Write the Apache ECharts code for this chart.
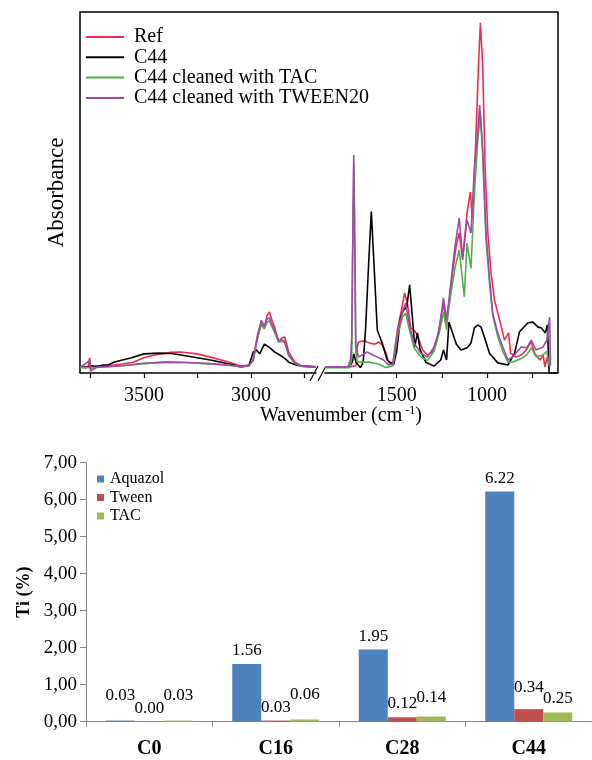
<!DOCTYPE html>
<html>
<head>
<meta charset="utf-8">
<script src="https://cdn.jsdelivr.net/npm/echarts@6/dist/echarts.min.js"></script>
<style>
  html, body { margin: 0; padding: 0; background: #fff; }
  #main { width: 592px; height: 760px; }
</style>
</head>
<body>
<div id="main"></div>
<script>
// FTIR spectra: [wavenumber (cm-1), absorbance a.u.]
var ref = [
  [3798,0.017],[3760,0.018],[3753,0.042],[3748,0.012],[3720,0.02],[3680,0.02],[3640,0.022],[3600,0.025],
  [3550,0.03],[3500,0.042],[3450,0.05],[3380,0.057],[3330,0.058],[3250,0.053],[3190,0.044],[3100,0.03],
  [3048,0.019],[3010,0.022],[2990,0.036],[2970,0.105],[2952,0.141],[2938,0.127],[2925,0.16],[2914,0.169],
  [2900,0.141],[2890,0.127],[2871,0.086],[2857,0.097],[2843,0.1],[2824,0.058],[2795,0.03],[2762,0.019],[2697,0.017],
  [1896,0.017],[1760,0.017],[1725,0.02],[1718,0.072],[1711,0.086],[1680,0.089],[1650,0.083],[1620,0.08],
  [1600,0.086],[1580,0.078],[1561,0.058],[1543,0.028],[1520,0.03],[1496,0.119],[1468,0.188],[1456,0.222],
  [1441,0.194],[1422,0.125],[1404,0.119],[1385,0.105],[1357,0.064],[1330,0.05],[1302,0.058],[1274,0.1],
  [1256,0.15],[1241,0.194],[1228,0.139],[1209,0.194],[1191,0.277],[1172,0.349],[1154,0.388],[1135,0.313],
  [1111,0.443],[1093,0.501],[1080,0.424],[1061,0.665],[1048,0.848],[1037,0.97],[1024,0.848],[1011,0.57],
  [996,0.388],[978,0.277],[959,0.202],[931,0.147],[904,0.091],[881,0.111],[870,0.055],[839,0.044],
  [811,0.05],[783,0.064],[756,0.086],[737,0.055],[709,0.036],[690,0.05],[681,0.017],[667,0.044],[657,0.012]
];
var c44 = [
  [3798,0.017],[3770,0.015],[3740,0.02],[3720,0.017],[3690,0.022],[3667,0.022],[3640,0.03],[3600,0.036],
  [3557,0.042],[3500,0.053],[3430,0.055],[3370,0.054],[3300,0.047],[3190,0.036],[3100,0.025],[3048,0.017],
  [3010,0.02],[2990,0.058],[2975,0.064],[2960,0.053],[2938,0.08],[2910,0.069],[2890,0.058],[2866,0.05],
  [2840,0.039],[2824,0.03],[2790,0.022],[2762,0.019],[2697,0.017],
  [1896,0.017],[1780,0.017],[1760,0.018],[1745,0.03],[1737,0.053],[1725,0.03],[1700,0.015],[1685,0.03],
  [1672,0.119],[1655,0.3],[1640,0.447],[1625,0.3],[1607,0.119],[1580,0.083],[1552,0.036],[1517,0.022],
  [1500,0.06],[1478,0.155],[1461,0.175],[1444,0.183],[1428,0.244],[1413,0.155],[1400,0.072],[1385,0.111],
  [1370,0.064],[1339,0.03],[1294,0.019],[1256,0.036],[1241,0.064],[1224,0.036],[1211,0.141],[1191,0.111],
  [1170,0.08],[1144,0.064],[1110,0.07],[1089,0.083],[1070,0.125],[1052,0.133],[1033,0.127],[1015,0.1],
  [987,0.055],[941,0.028],[885,0.022],[848,0.055],[821,0.114],[774,0.139],[746,0.141],[718,0.127],
  [700,0.125],[678,0.111],[667,0.133],[657,0.0],[608,0.0]
];
var tac = [
  [3798,0.015],[3700,0.016],[3600,0.02],[3500,0.026],[3400,0.03],[3300,0.029],[3200,0.026],[3100,0.021],
  [3048,0.017],[3010,0.02],[2990,0.034],[2970,0.095],[2952,0.135],[2938,0.122],[2925,0.14],[2914,0.145],
  [2900,0.125],[2890,0.112],[2871,0.085],[2857,0.088],[2843,0.084],[2824,0.048],[2795,0.026],[2762,0.018],[2697,0.016],
  [1896,0.015],[1760,0.015],[1748,0.04],[1744,0.29],[1737,0.58],[1730,0.29],[1726,0.06],[1718,0.03],
  [1700,0.03],[1650,0.03],[1600,0.025],[1560,0.015],[1520,0.02],[1496,0.1],[1468,0.155],[1450,0.166],
  [1432,0.125],[1404,0.07],[1367,0.045],[1330,0.035],[1293,0.06],[1265,0.11],[1241,0.169],[1224,0.12],
  [1209,0.19],[1178,0.29],[1154,0.34],[1126,0.211],[1111,0.36],[1089,0.29],[1070,0.5],[1052,0.64],
  [1037,0.72],[1024,0.6],[1006,0.37],[987,0.25],[969,0.16],[941,0.1],[913,0.06],[885,0.03],
  [860,0.03],[811,0.04],[780,0.05],[756,0.07],[730,0.045],[691,0.05],[670,0.06],[657,0.02]
];
var tween20 = [
  [3798,0.015],[3753,0.035],[3749,0.005],[3720,0.016],[3700,0.017],[3600,0.02],[3500,0.027],[3400,0.03],
  [3300,0.029],[3200,0.026],[3100,0.022],[3048,0.018],[3010,0.02],[2990,0.036],[2970,0.1],[2952,0.146],
  [2938,0.13],[2925,0.15],[2914,0.152],[2900,0.13],[2890,0.117],[2871,0.09],[2857,0.092],[2843,0.088],
  [2824,0.05],[2795,0.028],[2762,0.019],[2697,0.017],
  [1896,0.017],[1770,0.017],[1755,0.036],[1748,0.1],[1744,0.3],[1737,0.604],[1730,0.3],[1726,0.08],
  [1720,0.064],[1711,0.044],[1663,0.058],[1607,0.044],[1572,0.036],[1545,0.022],[1520,0.025],[1496,0.111],
  [1468,0.169],[1450,0.194],[1432,0.139],[1404,0.083],[1367,0.055],[1330,0.044],[1293,0.072],[1265,0.119],
  [1241,0.208],[1224,0.147],[1209,0.211],[1178,0.349],[1154,0.429],[1135,0.32],[1111,0.424],[1089,0.388],
  [1070,0.571],[1052,0.665],[1041,0.742],[1024,0.615],[1006,0.388],[987,0.266],[969,0.166],[941,0.111],
  [913,0.072],[885,0.036],[860,0.044],[811,0.072],[780,0.07],[756,0.091],[730,0.064],[691,0.072],
  [670,0.09],[654,0.155],[650,0.02]
];

var leftTicks = [3750, 3500, 3250, 3000, 2750];
var leftLabels = [3500, 3000];
var rightTicks = [1750, 1500, 1250, 1000, 750];
var rightLabels = [1500, 1000];

// Ti content bar chart
var samples = ['C0', 'C16', 'C28', 'C44'];
var aquazol = [0.03, 1.56, 1.95, 6.22];
var tween = [0.00, 0.03, 0.12, 0.34];
var tacTi = [0.03, 0.06, 0.14, 0.25];

var FONT = '"Liberation Serif", "Times New Roman", serif';
var chart = echarts.init(document.getElementById('main'));

var spectra = [
  { name: 'Ref', color: '#ee2c52', data: ref },
  { name: 'C44', color: '#000000', data: c44 },
  { name: 'C44 cleaned with TAC', color: '#4cb24a', data: tac },
  { name: 'C44 cleaned with TWEEN20', color: '#a04aa6', data: tween20 }
];

var series = [];
spectra.forEach(function(s) {
  [0, 1].forEach(function(idx) {
    series.push({
      type: 'line',
      name: s.name,
      xAxisIndex: idx,
      yAxisIndex: idx,
      symbol: 'none',
      color: s.color,
      lineStyle: { width: 1.6, color: s.color },
      animation: false,
      data: s.data.filter(function(p) { return idx === 0 ? p[0] > 2000 : p[0] < 2000; })
    });
  });
});

// small upward nudges so overlapping labels stay readable
var labelLift = { Aquazol: [12, 0, 0, 0], Tween: [0, 0, 0, 8], TAC: [12, 11, 5, 0] };
function barSeries(name, values, color) {
  return {
    type: 'bar',
    name: name,
    xAxisIndex: 2,
    yAxisIndex: 2,
    barWidth: 29,
    barGap: '0%',
    color: color,
    animation: false,
    label: {
      show: true, position: 'top', distance: 5,
      fontFamily: FONT, fontSize: 17, color: '#000',
      formatter: function(p) { return p.value.toFixed(2); }
    },
    data: values.map(function(v, i) {
      return { value: v, label: { offset: [0, -labelLift[name][i]] } };
    })
  };
}
series.push(barSeries('Aquazol', aquazol, '#4f81bd'));
series.push(barSeries('Tween', tween, '#c0504d'));
series.push(barSeries('TAC', tacTi, '#9bbb59'));

function specX(gridIndex, min, max, ticks, labels) {
  return {
    type: 'value', gridIndex: gridIndex, inverse: true, min: min, max: max,
    axisLine: { show: true, lineStyle: { color: '#000', width: 1.5 } },
    axisTick: { show: true, customValues: ticks, length: 5, lineStyle: { color: '#000', width: 1.2 } },
    axisLabel: {
      customValues: labels, fontFamily: FONT, fontSize: 20, color: '#000', margin: 13,
      formatter: function(v) { return String(v); }
    },
    splitLine: { show: false }
  };
}
function specY(gridIndex, withName) {
  return {
    type: 'value', gridIndex: gridIndex, min: 0, max: 1,
    name: withName ? 'Absorbance' : '',
    nameLocation: 'middle', nameGap: 12,
    nameTextStyle: { fontFamily: FONT, fontSize: 23, color: '#000' },
    axisLine: { show: false }, axisTick: { show: false },
    axisLabel: { show: false }, splitLine: { show: false }
  };
}

chart.setOption({
  backgroundColor: '#fff',
  textStyle: { fontFamily: FONT },
  title: {
    text: 'Wavenumber (cm{sup|-1})',
    left: 255, top: 400,
    textStyle: {
      fontFamily: FONT, fontSize: 20, fontWeight: 'normal', color: '#000',
      rich: { sup: { fontFamily: FONT, fontSize: 12, color: '#000', padding: [0, 0, 10, 3] } }
    }
  },
  grid: [
    { left: 80, top: 12, width: 236, height: 361 },
    { left: 325, top: 12, width: 233, height: 361 },
    { left: 86, top: 462.7, width: 508, height: 259 }
  ],
  legend: [
    {
      data: spectra.map(function(s) { return s.name; }),
      orient: 'vertical', left: 86, top: 27, padding: 0,
      icon: 'rect', itemWidth: 38, itemHeight: 2, itemGap: 0.3,
      selectedMode: false,
      textStyle: { fontFamily: FONT, fontSize: 20, lineHeight: 20, color: '#000', padding: [0, 0, 0, 5] }
    },
    {
      data: ['Aquazol', 'Tween', 'TAC'],
      orient: 'vertical', left: 97, top: 470, padding: 0,
      icon: 'rect', itemWidth: 7, itemHeight: 7, itemGap: 0.5,
      selectedMode: false,
      textStyle: { fontFamily: FONT, fontSize: 16, lineHeight: 18, color: '#000', padding: [0, 0, 0, 1] }
    }
  ],
  xAxis: [
    specX(0, 2697, 3798, leftTicks, leftLabels),
    specX(1, 608, 1896, rightTicks, rightLabels),
    {
      type: 'category', gridIndex: 2, data: samples,
      axisLine: { lineStyle: { color: '#868686', width: 1 } },
      axisTick: { show: true, length: 5, lineStyle: { color: '#868686' } },
      axisLabel: { fontFamily: FONT, fontSize: 20, fontWeight: 'bold', color: '#000', margin: 17 }
    }
  ],
  yAxis: [
    specY(0, true),
    specY(1, false),
    {
      type: 'value', gridIndex: 2, min: 0, max: 7, interval: 1,
      name: 'Ti (%)', nameLocation: 'middle', nameGap: 53,
      nameTextStyle: { fontFamily: FONT, fontSize: 18, fontWeight: 'bold', color: '#000' },
      axisLine: { show: true, lineStyle: { color: '#868686', width: 1 } },
      axisTick: { show: true, length: 6, lineStyle: { color: '#868686' } },
      axisLabel: {
        fontFamily: FONT, fontSize: 19, color: '#000', margin: 9,
        formatter: function(v) { return v.toFixed(2).replace('.', ','); }
      },
      splitLine: { show: false }
    }
  ],
  graphic: [
    { type: 'polyline', shape: { points: [[80, 373], [80, 12], [558, 12], [558, 373]] },
      style: { stroke: '#000', lineWidth: 1.5, fill: null } },
    { type: 'line', shape: { x1: 310, y1: 381, x2: 318, y2: 366 }, style: { stroke: '#000', lineWidth: 1.2 } },
    { type: 'line', shape: { x1: 318, y1: 381, x2: 326, y2: 366 }, style: { stroke: '#000', lineWidth: 1.2 } }
  ],
  series: series
});
</script>
</body>
</html>
